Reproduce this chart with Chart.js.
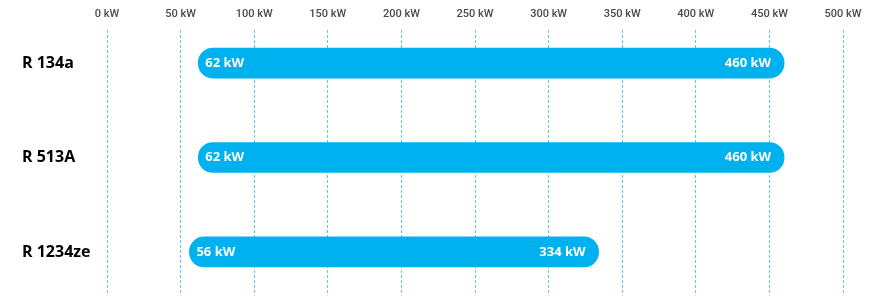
<!DOCTYPE html>
<html>
<head>
<meta charset="utf-8">
<script src="https://cdn.jsdelivr.net/npm/chart.js@4.4.0/dist/chart.umd.min.js"></script>
<style>
  html, body { margin: 0; padding: 0; background: #fff; }
  #wrap { width: 883px; height: 308px; }
</style>
</head>
<body>
<div id="wrap"><canvas id="chart"></canvas></div>
<script>
const refrigerants = ['R 134a', 'R 513A', 'R 1234ze'];
const minPower = [62, 62, 56];
const maxPower = [460, 460, 334];
const powerTicks = [0, 50, 100, 150, 200, 250, 300, 350, 400, 450, 500];

const BLUE = '#00b1ef';

// writes the "xx kW" values inside each bar
const barLabels = {
  id: 'barLabels',
  afterDatasetsDraw(chart){
    const ctx = chart.ctx;
    const meta = chart.getDatasetMeta(0);
    ctx.save();
    ctx.fillStyle = '#fff';
    ctx.font = 'bold 13px "Open Sans", sans-serif';
    ctx.textBaseline = 'middle';
    meta.data.forEach((bar, i) => {
      const left = Math.min(bar.base, bar.x), right = Math.max(bar.base, bar.x);
      ctx.textAlign = 'left';
      ctx.fillText(minPower[i] + ' kW', left + 7, bar.y);
      ctx.textAlign = 'right';
      ctx.fillText(maxPower[i] + ' kW', right - 13, bar.y);
    });
    ctx.restore();
  }
};

new Chart(document.getElementById('chart'), {
  type: 'bar',
  data: {
    datasets: [{
      data: refrigerants.map((r, i) => ({ y: i, x: [minPower[i], maxPower[i]] })),
      backgroundColor: BLUE,
      borderRadius: 15,
      borderSkipped: false,
      barThickness: 30
    }]
  },
  options: {
    indexAxis: 'y',
    responsive: true,
    maintainAspectRatio: false,
    animation: false,
    layout: { padding: { left: 22, right: 40, top: 0, bottom: 11 } },
    plugins: { legend: { display: false }, tooltip: { enabled: false } },
    scales: {
      x: {
        type: 'linear',
        position: 'top',
        min: 0, max: 500,
        afterBuildTicks: s => { s.ticks = powerTicks.map(v => ({ value: v })); },
        afterFit: s => { s.height = 30; },
        border: { display: false, dash: [3, 2] },
        grid: { color: '#5cc6ee', lineWidth: 1, drawTicks: false },
        ticks: {
          padding: 9,
          color: '#4a4a4a',
          font: { family: 'Roboto', size: 11, weight: '500' },
          callback: v => v + ' kW'
        }
      },
      y: {
        type: 'linear',
        reverse: true,
        offset: false,
        min: -0.35, max: 2.46,
        afterBuildTicks: s => { s.ticks = refrigerants.map((r, i) => ({ value: i })); },
        afterFit: s => { s.width = 85; },
        border: { display: false },
        grid: { display: false, offset: false },
        ticks: {
          crossAlign: 'far',
          color: '#000',
          font: { family: '"Open Sans"', size: 16, weight: 'bold' },
          callback: v => refrigerants[v]
        }
      }
    }
  },
  plugins: [barLabels]
});
</script>
</body>
</html>
